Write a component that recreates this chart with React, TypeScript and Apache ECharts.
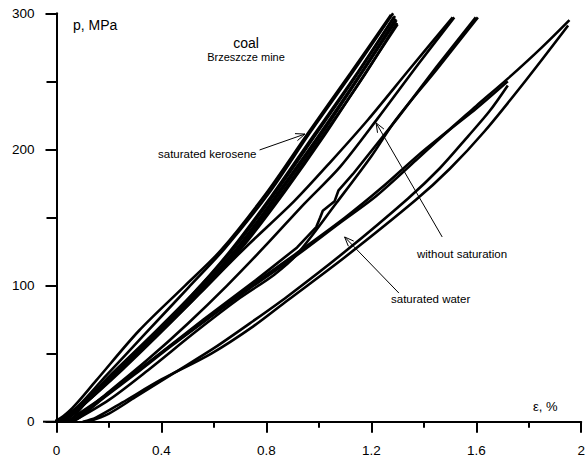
import React, { useEffect, useRef } from "react";
import * as echarts from "echarts";

// strain ε (%) , pressure p (MPa)
const keroseneCurves: number[][][] = [
  [[-0.04, 0], [0, 1], [0.06, 10], [0.15, 30], [0.315, 67], [0.49, 100], [0.627, 126], [0.8, 168], [0.955, 211], [1.12, 256], [1.275, 299]],
  [[1.283, 300], [1.13, 257], [0.965, 212], [0.81, 168], [0.64, 127], [0.5, 98], [0.34, 65], [0.19, 34], [0.08, 11], [0.0, 0]],
  [[0.0, 0], [0.09, 12], [0.21, 35], [0.36, 63], [0.52, 94], [0.66, 125], [0.82, 166], [0.975, 209], [1.135, 253], [1.285, 297]],
  [[1.29, 298], [1.145, 255], [0.985, 210], [0.83, 167], [0.675, 127], [0.53, 96], [0.38, 66], [0.23, 38], [0.1, 13], [0.01, 0]],
  [[0.02, 0], [0.11, 14], [0.24, 38], [0.39, 67], [0.545, 97], [0.69, 128], [0.84, 167], [0.995, 209], [1.15, 253], [1.293, 296]],
  [[1.296, 295], [1.16, 255], [1.005, 210], [0.85, 168], [0.7, 129], [0.555, 98], [0.405, 68], [0.255, 41], [0.12, 16], [0.03, 0]],
  [[0.03, 0], [0.13, 17], [0.27, 43], [0.42, 71], [0.57, 100], [0.71, 130], [0.86, 168], [1.015, 210], [1.165, 252], [1.298, 293]],
  [[1.3, 292], [1.17, 254], [1.02, 210], [0.87, 169], [0.72, 131], [0.58, 101], [0.435, 73], [0.285, 46], [0.14, 20], [0.05, 0]],
];

const dryCurves: number[][][] = [
  [[0.02, 0], [0.1, 12], [0.25, 38], [0.4, 66], [0.55, 95], [0.72, 128], [0.906, 162], [1.05, 192], [1.188, 222], [1.35, 260], [1.51, 297]],
  [[1.516, 297], [1.38, 263], [1.225, 223], [1.08, 187], [0.944, 160], [0.8, 130], [0.65, 100], [0.5, 72], [0.35, 46], [0.2, 22], [0.07, 2], [0.04, 0]],
  [[0.06, 0], [0.2, 16], [0.35, 38], [0.53, 66], [0.7, 91], [0.83, 108], [0.917, 123], [1.068, 161], [1.2, 195], [1.294, 222], [1.45, 259], [1.606, 297]],
];

const dryWavy: number[][] = [
  [1.598, 297], [1.45, 261], [1.3, 223], [1.13, 182], [1.075, 170], [1.06, 162], [1.015, 155], [1.005, 150], [0.99, 143], [0.917, 128], [0.76, 104], [0.56, 75], [0.36, 45], [0.17, 17], [0.04, 0],
];

const waterCurves: number[][][] = [
  [[0.1, 0], [0.15, 3], [0.25, 14], [0.4, 31], [0.59, 50], [0.75, 70], [0.88, 89], [1.1, 121], [1.37, 163], [1.5, 186], [1.63, 213], [1.79, 251], [1.95, 291]],
  [[0.12, 0], [0.2, 6], [0.3, 18], [0.45, 36], [0.6, 54], [0.75, 74], [0.88, 92], [1.1, 125], [1.34, 164], [1.46, 186], [1.57, 210], [1.65, 228], [1.72, 247]],
  [[1.955, 295], [1.85, 275], [1.72, 252], [1.6, 232], [1.5, 215], [1.38, 196], [1.24, 172], [1.1, 150], [0.917, 124], [0.75, 101], [0.59, 78], [0.45, 58], [0.3, 36], [0.18, 18], [0.08, 3], [0.04, 0]],
  [[1.72, 250], [1.6, 230], [1.49, 213], [1.37, 192], [1.22, 166], [1.08, 146], [0.9, 120], [0.73, 97], [0.58, 76], [0.44, 56], [0.3, 35], [0.17, 16], [0.08, 2], [0.05, 0]],
];

// annotation arrows: [fromX, fromY, toX, toY] in data units
const arrows: number[][] = [
  [0.774, 199.6, 0.947, 211.3],
  [1.47, 135.7, 1.218, 219.5],
  [1.305, 94.5, 1.098, 135.7],
];

const FONT = "Liberation Sans, Arial, sans-serif";

export default function App() {
  const ref = useRef<HTMLDivElement>(null);
  useEffect(() => {
    if (!ref.current) return;
    const chart = echarts.init(ref.current, undefined, { renderer: "svg" });
    const lineSeries = (data: number[][], smooth: boolean | number) => ({
      type: "line",
      data,
      showSymbol: false,
      symbol: "none",
      smooth,
      silent: true,
      clip: false,
      lineStyle: { color: "#000", width: 2.6 },
    });
    const series: any[] = [];
    keroseneCurves.forEach((c) => series.push(lineSeries(c, 0.3)));
    dryCurves.forEach((c) => series.push(lineSeries(c, 0.3)));
    series.push(lineSeries(dryWavy, false));
    waterCurves.forEach((c) => series.push(lineSeries(c, 0.3)));
    series.push({
      type: "custom",
      data: arrows,
      silent: true,
      clip: false,
      encode: { x: 0, y: 1 },
      renderItem: (params: any, api: any) => {
        const s = api.coord([api.value(0), api.value(1)]);
        const e = api.coord([api.value(2), api.value(3)]);
        const ang = Math.atan2(e[1] - s[1], e[0] - s[0]);
        const L = 10;
        const a = 0.38;
        const h1 = [e[0] - L * Math.cos(ang - a), e[1] - L * Math.sin(ang - a)];
        const h2 = [e[0] - L * Math.cos(ang + a), e[1] - L * Math.sin(ang + a)];
        return {
          type: "group",
          children: [
            { type: "line", shape: { x1: s[0], y1: s[1], x2: e[0], y2: e[1] }, style: { stroke: "#000", lineWidth: 1 } },
            { type: "polyline", shape: { points: [h1, e, h2] }, style: { stroke: "#000", fill: null, lineWidth: 1 } },
          ],
        };
      },
    });

    chart.setOption({
      animation: false,
      backgroundColor: "#fff",
      grid: { left: 56.5, right: 0.5, top: 13.3, bottom: 40.3 },
      xAxis: {
        type: "value",
        min: 0,
        max: 2,
        interval: 0.4,
        axisLine: { show: true, lineStyle: { color: "#000", width: 2 } },
        axisTick: { show: true, length: 11, lineStyle: { color: "#000", width: 2 } },
        minorTick: { show: true, splitNumber: 2, length: 6, lineStyle: { color: "#000", width: 2 } },
        axisLabel: {
          show: true,
          margin: 22,
          color: "#000",
          fontSize: 13.5,
          fontFamily: FONT,
          formatter: (v: number) => String(Math.round(v * 10) / 10),
        },
        splitLine: { show: false },
      },
      yAxis: {
        type: "value",
        min: 0,
        max: 300,
        interval: 100,
        axisLine: { show: true, lineStyle: { color: "#000", width: 2 } },
        axisTick: { show: true, length: 11, lineStyle: { color: "#000", width: 2 } },
        minorTick: { show: true, splitNumber: 2, length: 10, lineStyle: { color: "#000", width: 2 } },
        axisLabel: { margin: 22, color: "#000", fontSize: 13.5, fontFamily: FONT },
        splitLine: { show: false },
      },
      graphic: [
        { type: "line", shape: { x1: 43, y1: 421.7, x2: 57, y2: 421.7 }, style: { stroke: "#000", lineWidth: 2 }, silent: true },
        { type: "text", left: 73, top: 18, style: { text: "p, MPa", fontSize: 14, fontFamily: FONT, fill: "#000" } },
        { type: "text", x: 246, y: 43, style: { text: "coal", fontSize: 14, fontFamily: FONT, fill: "#000", align: "center", verticalAlign: "middle" } },
        { type: "text", x: 246, y: 57, style: { text: "Brzeszcze mine", fontSize: 11, fontFamily: FONT, fill: "#000", align: "center", verticalAlign: "middle" } },
        { type: "text", x: 158, y: 154, style: { text: "saturated kerosene", fontSize: 11.5, fontFamily: FONT, fill: "#000", align: "left", verticalAlign: "middle" } },
        { type: "text", x: 417, y: 254, style: { text: "without saturation", fontSize: 11.5, fontFamily: FONT, fill: "#000", align: "left", verticalAlign: "middle" } },
        { type: "text", x: 391, y: 299, style: { text: "saturated water", fontSize: 11.5, fontFamily: FONT, fill: "#000", align: "left", verticalAlign: "middle" } },
        { type: "text", x: 533, y: 406, style: { text: "ε, %", fontSize: 13, fontFamily: FONT, fill: "#000", align: "left", verticalAlign: "middle" } },
      ],
      series,
    });
    return () => chart.dispose();
  }, []);
  return <div ref={ref} style={{ position: "fixed", left: 0, top: 0, width: 588, height: 462 }} />;
}
